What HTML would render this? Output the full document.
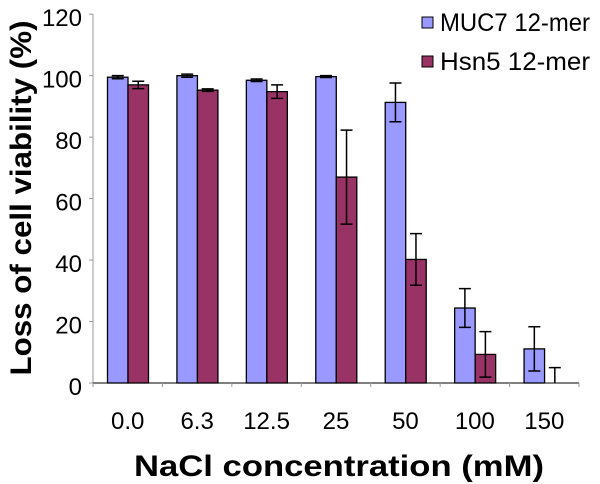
<!DOCTYPE html>
<html><head><meta charset="utf-8"><style>
body{margin:0;background:#fff;}
svg{display:block;font-family:"Liberation Sans",Arial,sans-serif;}
</style></head><body>
<svg id="chart" width="600" height="484" viewBox="0 0 600 484"></svg>
<script>
const categories = ["0.0","6.3","12.5","25","50","100","150"];
const muc7Values = [99.5,100,98.5,99.7,91.3,24.4,11.1];
const muc7Errors = [0.5,0.5,0.4,0.3,6.3,6.3,7.2];
const hsn5Values = [97,95.3,94.8,67,40.2,9.3,0];
const hsn5Errors = [1.2,0.4,2.2,15.3,8.4,7.4,5];
const yTicks = [0,20,40,60,80,100,120];
const seriesNames = ["MUC7 12-mer","Hsn5 12-mer"];

const NS="http://www.w3.org/2000/svg";
const svg=document.getElementById('chart');
const x0=93, x1=579, y0=383, yTop=14.2, yMax=120;
const catW=(x1-x0)/categories.length;
const barW=20.5, groupOff=14.5;
function yS(v){return y0-(v/yMax)*(y0-yTop);}
function xCat(i){return x0+i*catW;}
function mk(tag,attrs){const e=document.createElementNS(NS,tag);for(const k in attrs)e.setAttribute(k,attrs[k]);svg.appendChild(e);return e;}

let ax=mk('line',{x1:x0,y1:yTop,x2:x0,y2:y0,stroke:'#999','stroke-width':1});


yTicks.forEach(t=>{
  const tk=mk('line',{x1:x0-4,y1:yS(t),x2:x0,y2:yS(t),stroke:'#999'});
  
  
  const lb=mk('text',{x:82,y:yS(t)+12,'text-anchor':'end','font-size':24,fill:'#000'});
  lb.textContent=t;
  
  
});

const colors=['#9999ff','#993366'];
const vals=[muc7Values,hsn5Values], errs=[muc7Errors,hsn5Errors];
categories.forEach((c,i)=>{
  for(let s=0;s<2;s++){
    const v=vals[s][i], e=errs[s][i];
    const bx=xCat(i)+groupOff+s*barW;
    if(v>0){
      const r=mk('rect',{x:bx,y:yS(v),width:barW,height:y0-yS(v),fill:colors[s],stroke:'#000','stroke-width':1.3});
      
      
    }
    const cx=bx+barW/2;
    const eb=mk('path',{d:`M${cx},${yS(v+e)}V${yS(Math.max(0,v-e))}M${cx-6},${yS(v+e)}H${cx+6}`+(v-e>0?`M${cx-6},${yS(v-e)}H${cx+6}`:''),stroke:'#000','stroke-width':1.5,fill:'none'});
    
    
  }
  const lb=mk('text',{x:xCat(i)+catW/2,y:429,'text-anchor':'middle','font-size':24,fill:'#000'});
  lb.textContent=c;
  
  
});
let xa=mk('line',{x1:x0,y1:y0,x2:x1,y2:y0,stroke:'#000','stroke-width':1});


for(let i=0;i<=categories.length;i++){
  const tk=mk('line',{x1:xCat(i),y1:y0,x2:xCat(i),y2:y0+4,stroke:'#999'});
  
  
}
seriesNames.forEach((n,s)=>{
  const cy=22+s*39;
  const r=mk('rect',{x:422,y:cy-5,width:11,height:11,fill:colors[s],stroke:'#000','stroke-width':1});
  
  
  const t=mk('text',{x:440,y:cy+9,'font-size':25,fill:'#000',textLength:150,lengthAdjust:'spacingAndGlyphs'});
  t.textContent=n;
  
  
});
const xt=mk('text',{x:339,y:476,'text-anchor':'middle','font-size':30,'font-weight':'bold',fill:'#000',textLength:410,lengthAdjust:'spacingAndGlyphs'});
xt.textContent='NaCl concentration (mM)';


const yt=mk('text',{x:0,y:0,'text-anchor':'middle','font-size':30,'font-weight':'bold',fill:'#000',textLength:355,lengthAdjust:'spacingAndGlyphs',transform:'translate(31,198) rotate(-90)'});
yt.textContent='Loss of cell viability (%)';


</script>
</body></html>
